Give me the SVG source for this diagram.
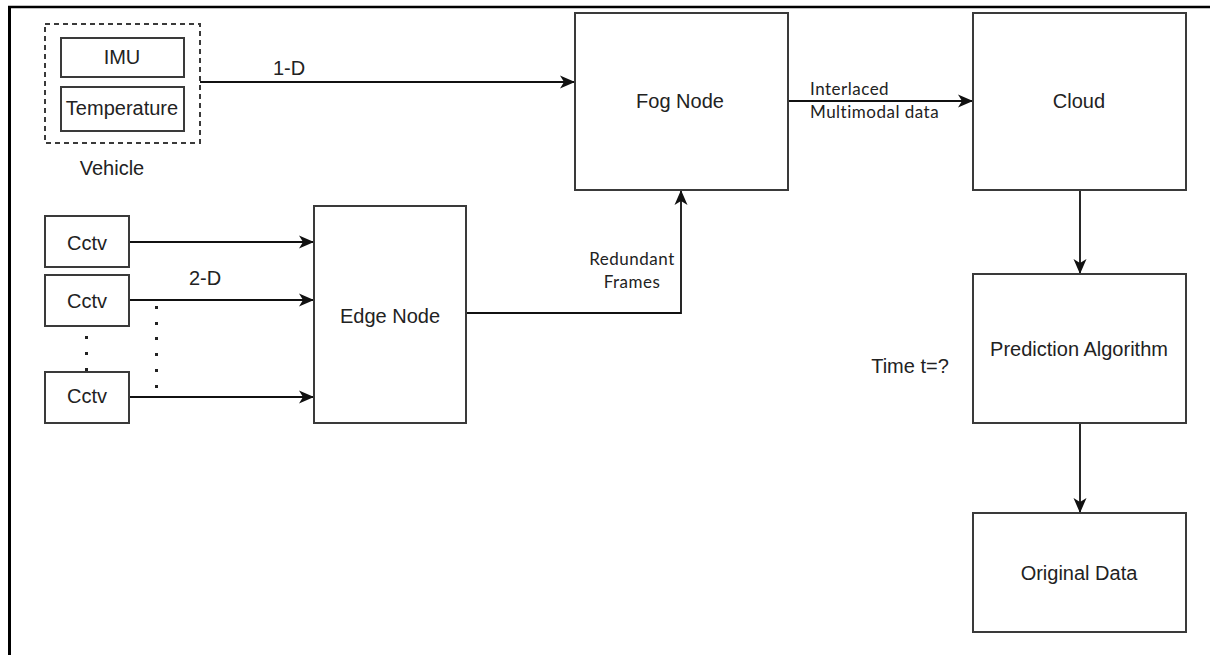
<svg xmlns="http://www.w3.org/2000/svg" width="1210" height="655" viewBox="0 0 1210 655">
<style>
.box{fill:#fff;stroke:#3a3a3a;stroke-width:2}
.dash{fill:none;stroke:#3a3a3a;stroke-width:2;stroke-dasharray:5 4}
.lbl{font-family:"Liberation Sans",Arial,sans-serif;font-size:20px;fill:#222;text-anchor:middle}
.sm{font-family:Lato,"Noto Sans",sans-serif;font-size:17px;fill:#222;letter-spacing:0.5px}
.con{fill:none;stroke:#111;stroke-width:1.8}
.dot{fill:#222}
</style>
<defs>
<marker id="arr" markerUnits="userSpaceOnUse" markerWidth="16" markerHeight="14" refX="15" refY="7" orient="auto">
<path d="M0,0.5 L15,7 L0,13.5 L4,7 z" fill="#111"/>
</marker>
</defs>
<rect width="1210" height="655" fill="#fff"/>
<g id="frame">
<line x1="8" y1="7" x2="1210" y2="7" stroke="#000" stroke-width="2.5"/>
<line x1="9.5" y1="6" x2="9.5" y2="655" stroke="#000" stroke-width="3"/>
</g>
<g id="connectors">
<path class="con" d="M200,82 H575" marker-end="url(#arr)"/>
<path class="con" d="M129,242 H314" marker-end="url(#arr)"/>
<path class="con" d="M129,300 H314" marker-end="url(#arr)"/>
<path class="con" d="M129,397 H314" marker-end="url(#arr)"/>
<path class="con" d="M466,313 H681 V190" marker-end="url(#arr)"/>
<path class="con" d="M788,101 H973" marker-end="url(#arr)"/>
<path class="con" d="M1080,190 V274" marker-end="url(#arr)"/>
<path class="con" d="M1080,423 V513" marker-end="url(#arr)"/>
<text class="lbl" x="289" y="75">1-D</text>
<text class="lbl" x="205" y="285">2-D</text>
<text class="sm" x="810" y="95">Interlaced</text>
<text class="sm" x="810" y="118">Multimodal data</text>
<text class="sm" x="632" y="265" text-anchor="middle">Redundant</text>
<text class="sm" x="632" y="288" text-anchor="middle">Frames</text>
<text class="lbl" x="910" y="373">Time t=?</text>
</g>
<g id="dots">
<rect class="dot" x="85" y="336" width="3" height="3"/>
<rect class="dot" x="85" y="352" width="3" height="3"/>
<rect class="dot" x="85" y="368" width="3" height="3"/>
<rect class="dot" x="155" y="306" width="3" height="3"/>
<rect class="dot" x="155" y="322" width="3" height="3"/>
<rect class="dot" x="155" y="337" width="3" height="3"/>
<rect class="dot" x="155" y="353" width="3" height="3"/>
<rect class="dot" x="155" y="369" width="3" height="3"/>
<rect class="dot" x="155" y="385" width="3" height="3"/>
</g>
<g id="vehicle">
<rect class="dash" x="45" y="24" width="155" height="119"/>
<text class="lbl" x="112" y="175">Vehicle</text>
</g>
<g id="imu">
<rect class="box" x="61" y="38" width="123" height="39"/>
<text class="lbl" x="122" y="64">IMU</text>
</g>
<g id="temperature">
<rect class="box" x="61" y="87" width="123" height="44"/>
<text class="lbl" x="122" y="115">Temperature</text>
</g>
<g id="cctv1">
<rect class="box" x="45" y="216" width="84" height="51"/>
<text class="lbl" x="87" y="250">Cctv</text>
</g>
<g id="cctv2">
<rect class="box" x="45" y="275" width="84" height="51"/>
<text class="lbl" x="87" y="308">Cctv</text>
</g>
<g id="cctv3">
<rect class="box" x="45" y="372" width="84" height="51"/>
<text class="lbl" x="87" y="403">Cctv</text>
</g>
<g id="edge-node">
<rect class="box" x="314" y="206" width="152" height="217"/>
<text class="lbl" x="390" y="323">Edge Node</text>
</g>
<g id="fog-node">
<rect class="box" x="575" y="13" width="213" height="177"/>
<text class="lbl" x="680" y="108">Fog Node</text>
</g>
<g id="cloud">
<rect class="box" x="973" y="13" width="213" height="177"/>
<text class="lbl" x="1079" y="108">Cloud</text>
</g>
<g id="prediction">
<rect class="box" x="973" y="274" width="213" height="149"/>
<text class="lbl" x="1079" y="356">Prediction Algorithm</text>
</g>
<g id="original-data">
<rect class="box" x="973" y="513" width="213" height="119"/>
<text class="lbl" x="1079" y="580">Original Data</text>
</g>
</svg>
